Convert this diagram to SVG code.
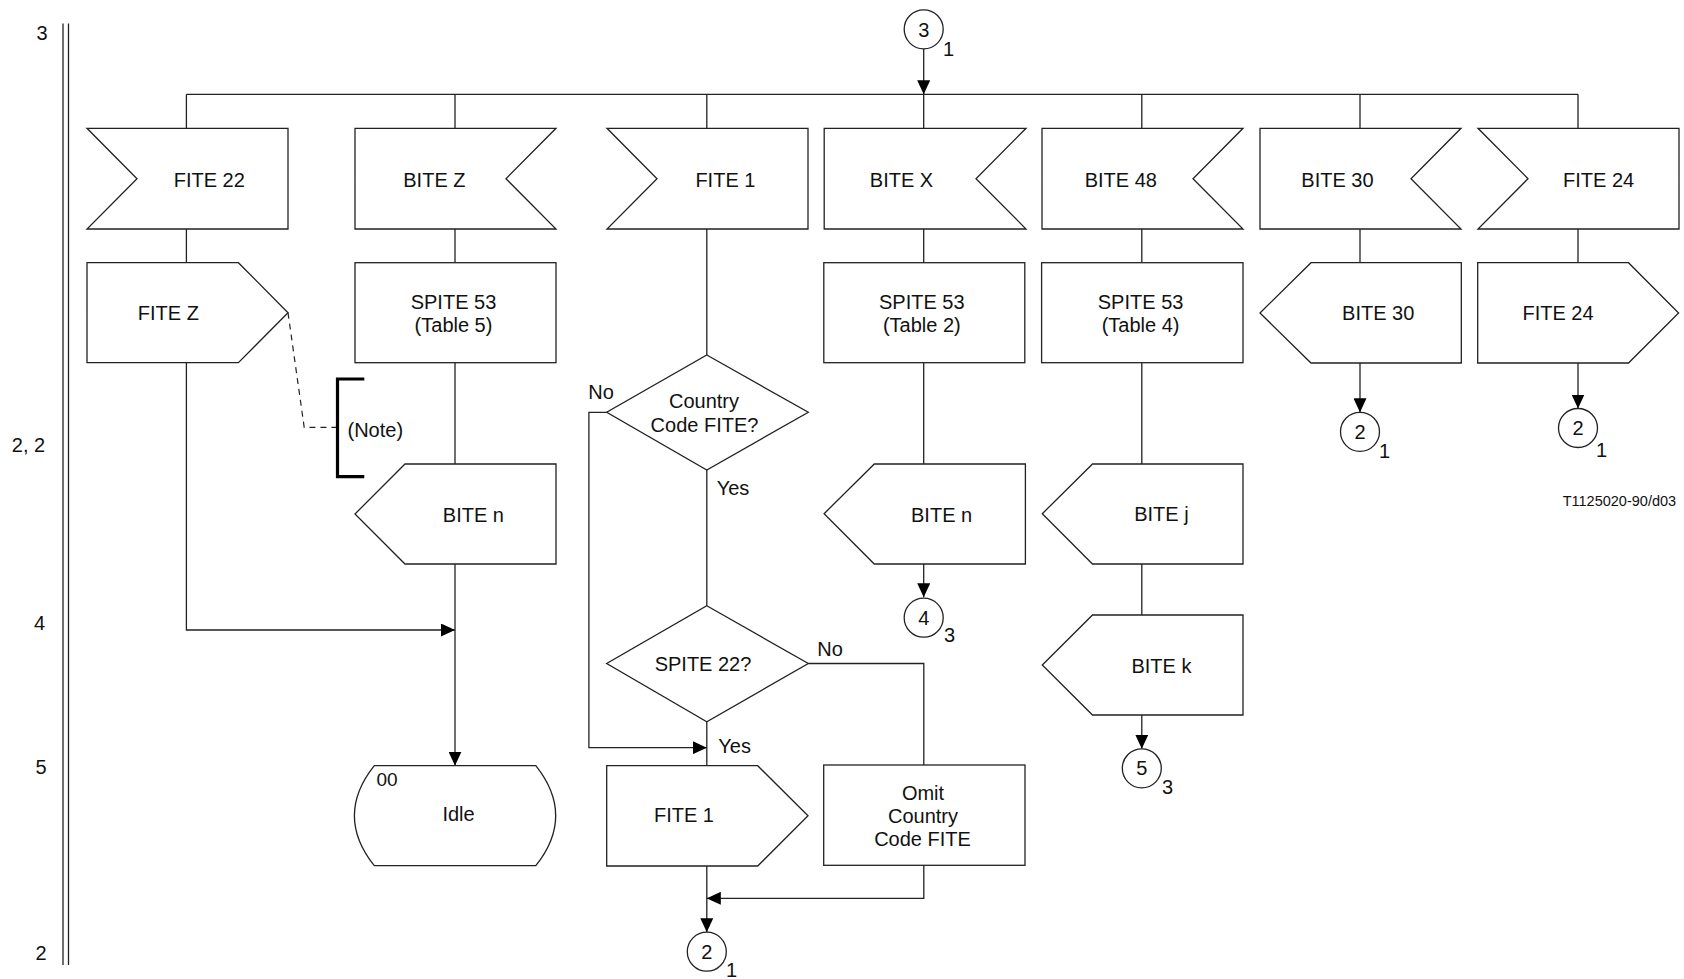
<svg xmlns="http://www.w3.org/2000/svg" width="1684" height="979" viewBox="0 0 1684 979">
<style>
.s{fill:#fff;stroke:#222;stroke-width:1.3}
.l{fill:none;stroke:#222;stroke-width:1.3}
.d{fill:none;stroke:#222;stroke-width:1.2;stroke-dasharray:6 5}
.b{fill:none;stroke:#000;stroke-width:3.2}
text{font-family:"Liberation Sans",Arial,sans-serif;font-size:20px;fill:#111}
.c{text-anchor:middle}
.sub{font-size:20px}
.oo{font-size:19px}
.sm{font-size:14.5px}
</style>
<defs>
<marker id="ah" markerUnits="userSpaceOnUse" viewBox="0 0 14 13" refX="14" refY="6.5" markerWidth="14" markerHeight="13" orient="auto">
<path d="M0,0 L14,6.5 L0,13 Z" fill="#000"/>
</marker>
</defs>
<rect width="1684" height="979" fill="#fff"/>

<g id="frame">
<line class="l" x1="63" y1="23.5" x2="63" y2="965"/>
<line class="l" x1="68.5" y1="23.5" x2="68.5" y2="965"/>
<text class="c" x="42" y="40">3</text>
<text class="c" x="28.5" y="452">2, 2</text>
<text class="c" x="39.5" y="630">4</text>
<text class="c" x="41" y="774">5</text>
<text class="c" x="41" y="960">2</text>
<text class="sm" x="1562.7" y="506">T1125020-90/d03</text>
</g>

<g id="connectors">
<line class="l" x1="186.4" y1="94.3" x2="1578" y2="94.3"/>
<line class="l" x1="923.7" y1="49" x2="923.7" y2="94.3" marker-end="url(#ah)"/>
<line class="l" x1="186.4" y1="94.3" x2="186.4" y2="128.3"/>
<line class="l" x1="455" y1="94.3" x2="455" y2="128.3"/>
<line class="l" x1="706.8" y1="94.3" x2="706.8" y2="128.3"/>
<line class="l" x1="923.7" y1="94.3" x2="923.7" y2="128.3"/>
<line class="l" x1="1141.8" y1="94.3" x2="1141.8" y2="128.3"/>
<line class="l" x1="1360" y1="94.3" x2="1360" y2="128.3"/>
<line class="l" x1="1578" y1="94.3" x2="1578" y2="128.3"/>
<line class="l" x1="186.4" y1="229" x2="186.4" y2="262.7"/>
<line class="l" x1="455" y1="229" x2="455" y2="262.7"/>
<line class="l" x1="706.8" y1="229" x2="706.8" y2="355"/>
<line class="l" x1="923.7" y1="229" x2="923.7" y2="262.7"/>
<line class="l" x1="1141.8" y1="229" x2="1141.8" y2="262.7"/>
<line class="l" x1="1360" y1="229" x2="1360" y2="262.7"/>
<line class="l" x1="1578" y1="229" x2="1578" y2="262.7"/>
<polyline class="l" points="186.4,362.7 186.4,630 455,630" marker-end="url(#ah)"/>
<path class="d" d="M288,312.7 L304.2,427.3 L337,427.3"/>
<line class="l" x1="455" y1="362.7" x2="455" y2="464"/>
<line class="l" x1="455" y1="564" x2="455" y2="765.7" marker-end="url(#ah)"/>
<line class="l" x1="706.8" y1="470" x2="706.8" y2="605.7"/>
<polyline class="l" points="606.7,412.3 588.9,412.3 588.9,747.7 706.8,747.7" marker-end="url(#ah)"/>
<line class="l" x1="706.8" y1="721.7" x2="706.8" y2="765.7"/>
<polyline class="l" points="808.3,663.5 923.8,663.5 923.8,765"/>
<line class="l" x1="706.8" y1="866" x2="706.8" y2="932.2" marker-end="url(#ah)"/>
<polyline class="l" points="923.8,865.3 923.8,898.3 706.8,898.3" marker-end="url(#ah)"/>
<line class="l" x1="923.7" y1="362.7" x2="923.7" y2="464"/>
<line class="l" x1="923.7" y1="564" x2="923.7" y2="597.2" marker-end="url(#ah)"/>
<line class="l" x1="1141.8" y1="362.7" x2="1141.8" y2="464"/>
<line class="l" x1="1141.8" y1="564" x2="1141.8" y2="615"/>
<line class="l" x1="1141.8" y1="715" x2="1141.8" y2="748.8" marker-end="url(#ah)"/>
<line class="l" x1="1360" y1="363" x2="1360" y2="412.3" marker-end="url(#ah)"/>
<line class="l" x1="1578" y1="363" x2="1578" y2="408.5" marker-end="url(#ah)"/>
</g>

<g id="conn3top">
<circle class="s" cx="923.7" cy="29.3" r="19.5"/>
<text class="c" x="923.7" y="36.5">3</text>
<text class="sub" x="943" y="56">1</text>
</g>

<g id="fite22">
<path class="s" d="M87,128.3 L288,128.3 L288,229 L87,229 L137,178.7 Z"/>
<text class="c" x="209.3" y="187">FITE 22</text>
</g>
<g id="bitez">
<path class="s" d="M355,128.3 L556,128.3 L506,178.7 L556,229 L355,229 Z"/>
<text class="c" x="434.4" y="187">BITE Z</text>
</g>
<g id="fite1in">
<path class="s" d="M607,128.3 L808,128.3 L808,229 L607,229 L657,178.7 Z"/>
<text class="c" x="725.4" y="187">FITE 1</text>
</g>
<g id="bitex">
<path class="s" d="M824.2,128.3 L1026,128.3 L976,178.7 L1026,229 L824.2,229 Z"/>
<text class="c" x="901.5" y="187">BITE X</text>
</g>
<g id="bite48">
<path class="s" d="M1042,128.3 L1243,128.3 L1193,178.7 L1243,229 L1042,229 Z"/>
<text class="c" x="1120.8" y="187">BITE 48</text>
</g>
<g id="bite30in">
<path class="s" d="M1260,128.3 L1461,128.3 L1411,178.7 L1461,229 L1260,229 Z"/>
<text class="c" x="1337.5" y="187">BITE 30</text>
</g>
<g id="fite24in">
<path class="s" d="M1478,128.3 L1679,128.3 L1679,229 L1478,229 L1528,178.7 Z"/>
<text class="c" x="1598.6" y="187">FITE 24</text>
</g>

<g id="fitezout">
<path class="s" d="M87,262.7 L238.4,262.7 L288,312.7 L238.4,362.7 L87,362.7 Z"/>
<text class="c" x="168.4" y="320">FITE Z</text>
</g>
<g id="note">
<path class="b" d="M364.3,379 L337.5,379 L337.5,476.7 L364.3,476.7"/>
<text x="347.5" y="436.5">(Note)</text>
</g>
<g id="spite5">
<rect class="s" x="355" y="262.7" width="201" height="100"/>
<text class="c" x="453.5" y="308.5">SPITE 53</text>
<text class="c" x="453.5" y="332">(Table 5)</text>
</g>
<g id="biten1">
<path class="s" d="M355,514 L405,464 L556,464 L556,564 L405,564 Z"/>
<text class="c" x="473.4" y="521.5">BITE n</text>
</g>
<g id="idle">
<path class="s" d="M374.3,765.7 L535.8,765.7 Q575.6,815.7 535.8,865.7 L374.3,865.7 Q334.5,815.7 374.3,765.7 Z"/>
<text class="oo" x="376.5" y="785.5">00</text>
<text class="c" x="458.5" y="821">Idle</text>
</g>

<g id="dec1">
<path class="s" d="M706.8,355 L808.3,412.3 L706.8,470 L606.7,412.3 Z"/>
<text class="c" x="704" y="408">Country</text>
<text class="c" x="704.5" y="432">Code FITE?</text>
<text class="c" x="601" y="399">No</text>
<text class="c" x="733" y="494.5">Yes</text>
</g>
<g id="dec2">
<path class="s" d="M706.8,605.7 L808.3,663.5 L706.8,721.7 L606.7,663.5 Z"/>
<text class="c" x="703" y="671">SPITE 22?</text>
<text class="c" x="830" y="655.5">No</text>
<text class="c" x="734.6" y="752.5">Yes</text>
</g>
<g id="fite1out">
<path class="s" d="M606.7,765.7 L757.7,765.7 L808,815.8 L757.7,866 L606.7,866 Z"/>
<text class="c" x="684" y="822">FITE 1</text>
</g>
<g id="omit">
<rect class="s" x="823.7" y="765" width="201.3" height="100.3"/>
<text class="c" x="923" y="799.5">Omit</text>
<text class="c" x="923" y="823">Country</text>
<text class="c" x="922.5" y="846">Code FITE</text>
</g>
<g id="conn2a">
<circle class="s" cx="706.8" cy="951.7" r="19.5"/>
<text class="c" x="706.8" y="958.5">2</text>
<text class="sub" x="726" y="977">1</text>
</g>

<g id="spite2">
<rect class="s" x="823.8" y="262.7" width="201" height="100"/>
<text class="c" x="921.8" y="308.5">SPITE 53</text>
<text class="c" x="921.8" y="332">(Table 2)</text>
</g>
<g id="biten2">
<path class="s" d="M824.1,513.7 L874.3,464 L1025.4,464 L1025.4,564 L874.3,564 Z"/>
<text class="c" x="941.6" y="521.5">BITE n</text>
</g>
<g id="conn4">
<circle class="s" cx="923.7" cy="617.7" r="19.5"/>
<text class="c" x="923.7" y="624.5">4</text>
<text class="sub" x="944" y="642">3</text>
</g>

<g id="spite4">
<rect class="s" x="1041.6" y="262.7" width="201.4" height="100"/>
<text class="c" x="1140.6" y="308.5">SPITE 53</text>
<text class="c" x="1140.6" y="332">(Table 4)</text>
</g>
<g id="bitej">
<path class="s" d="M1042.3,513.7 L1092.5,464 L1243,464 L1243,564 L1092.5,564 Z"/>
<text class="c" x="1161.4" y="520.5">BITE j</text>
</g>
<g id="bitek">
<path class="s" d="M1042.3,665 L1092.5,615 L1243,615 L1243,715 L1092.5,715 Z"/>
<text class="c" x="1161.4" y="672.5">BITE k</text>
</g>
<g id="conn5">
<circle class="s" cx="1141.8" cy="768.3" r="19.5"/>
<text class="c" x="1141.8" y="775">5</text>
<text class="sub" x="1162" y="794">3</text>
</g>

<g id="bite30out">
<path class="s" d="M1260,313 L1311,262.7 L1461.3,262.7 L1461.3,363 L1311,363 Z"/>
<text class="c" x="1378.2" y="320">BITE 30</text>
</g>
<g id="conn2b">
<circle class="s" cx="1360" cy="431.8" r="19.5"/>
<text class="c" x="1360" y="438.5">2</text>
<text class="sub" x="1379" y="458">1</text>
</g>
<g id="fite24out">
<path class="s" d="M1477.7,262.7 L1628.5,262.7 L1678.6,313 L1628.5,363 L1477.7,363 Z"/>
<text class="c" x="1558" y="320">FITE 24</text>
</g>
<g id="conn2c">
<circle class="s" cx="1578" cy="428" r="19.5"/>
<text class="c" x="1578" y="435">2</text>
<text class="sub" x="1596" y="457">1</text>
</g>
</svg>
